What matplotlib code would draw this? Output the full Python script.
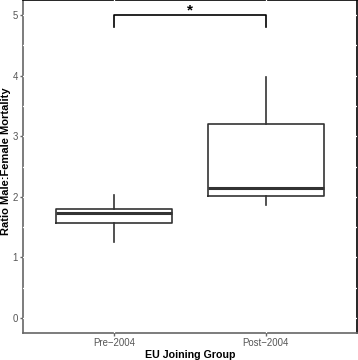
import matplotlib.pyplot as plt
import numpy as np

plt.rcParams['font.family'] = ['Liberation Sans', 'DejaVu Sans']

groups = ["Pre\u22122004", "Post\u22122004"]
whisk_lo = [1.26, 1.87]
q1 = [1.57, 2.01]
medians = [1.73, 2.14]
q3 = [1.79, 3.20]
whisk_hi = [2.03, 3.97]
y_ticks = [0, 1, 2, 3, 4, 5]

fig = plt.figure(figsize=(3.58, 3.60), dpi=100)
ax = fig.add_axes([23 / 358, 27 / 360, 334 / 358, 333 / 360])

stats = []
for i in range(len(groups)):
    stats.append({"whislo": whisk_lo[i], "q1": q1[i], "med": medians[i],
                  "q3": q3[i], "whishi": whisk_hi[i], "fliers": []})

ax.bxp(stats, positions=[1, 2], widths=0.76, showcaps=False,
       boxprops=dict(color="#333333", lw=1.2),
       whiskerprops=dict(color="#333333", lw=1.2),
       medianprops=dict(color="#333333", lw=2.2),
       zorder=3)

ax.set_xlim(0.4, 2.6)
ax.set_ylim(-0.25, 5.25)
ax.set_xticks([1, 2])
ax.set_xticklabels(groups)
ax.set_yticks(y_ticks)

# white grid lines over the frame, like the reference
for v in np.arange(0, 5.01, 0.5):
    ax.axhline(v, color="white", lw=0.9, zorder=2.6)
for v in [1, 2]:
    ax.axvline(v, color="white", lw=0.9, zorder=2.6)

for side in ["top", "right"]:
    ax.spines[side].set_color("black")
    ax.spines[side].set_linewidth(1.2)
for side in ["left", "bottom"]:
    ax.spines[side].set_color("#666666")
    ax.spines[side].set_linewidth(1.2)

ax.tick_params(colors="#666666", labelsize=6.9, length=2, width=1, pad=1.5)
for lab in ax.get_xticklabels() + ax.get_yticklabels():
    lab.set_color("#555555")

ax.set_xlabel("EU Joining Group", fontsize=7.7, fontweight="bold", labelpad=1.5)
fig.text(6 / 358, 1 - 161 / 360, "Ratio Male:Female Mortality", rotation=90,
         ha="center", va="center", fontsize=8, fontweight="bold")

# significance bracket
ax.plot([1, 1, 2, 2], [4.81, 5.0, 5.0, 4.81], color="black", lw=1.2,
        zorder=4, clip_on=False)
ax.text(1.5, 5.005, "*", ha="center", va="baseline", fontsize=11,
        fontweight="bold")

fig.savefig("out.png", dpi=100)
